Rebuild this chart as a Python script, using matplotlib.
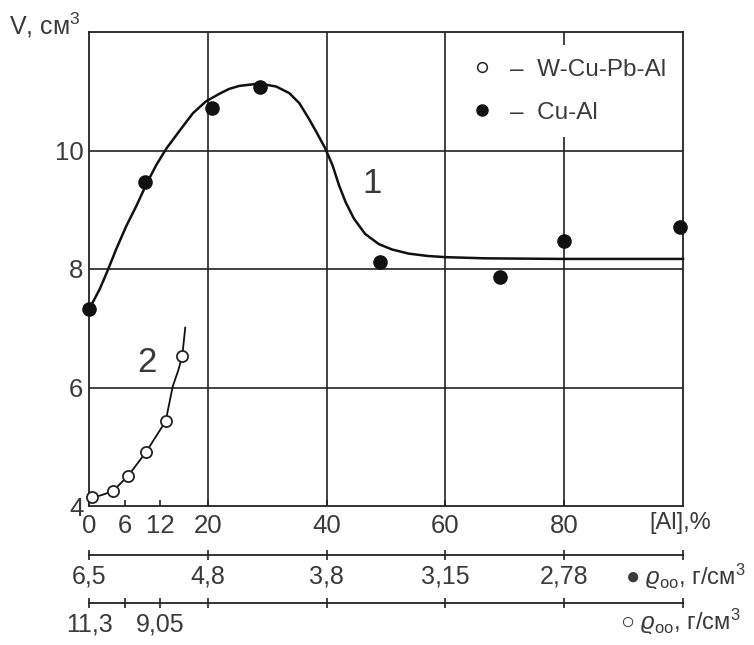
import matplotlib
matplotlib.use("Agg")
import matplotlib.pyplot as plt
from matplotlib.lines import Line2D

plt.rcParams['font.family'] = ['Liberation Sans', 'DejaVu Sans']
plt.rcParams['mathtext.fontset'] = 'custom'
plt.rcParams['mathtext.rm'] = 'Liberation Sans'
plt.rcParams['mathtext.it'] = 'Liberation Sans:italic'
plt.rcParams['mathtext.fallback'] = 'stixsans'

# ---- data ----
# curve 1 (Cu-Al), fitted line
curve1_x = [0.17, 1.8, 3.0, 4.6, 6.3, 8.0, 9.7, 11.3, 13.0, 15.3, 17.5, 19.7, 22.0,
            23.6, 25.3, 28.7, 31.5, 33.7, 35.4, 37.0, 38.4, 39.7, 41.0, 42.1, 43.2,
            44.6, 46.5, 48.8, 51.0, 53.8, 57.0, 60.0, 66.7, 80.0, 100.0]
curve1_y = [7.35, 7.66, 7.94, 8.34, 8.73, 9.07, 9.44, 9.75, 10.03, 10.34, 10.63, 10.83,
            10.96, 11.04, 11.09, 11.13, 11.08, 10.97, 10.80, 10.54, 10.29, 10.05, 9.75,
            9.41, 9.13, 8.85, 8.59, 8.42, 8.33, 8.26, 8.22, 8.20, 8.18, 8.17, 8.17]
# measured Cu-Al points
cual_x = [0, 9.4, 20.7, 28.8, 49, 69.2, 80, 99.5]
cual_y = [7.32, 9.46, 10.71, 11.08, 8.12, 7.87, 8.47, 8.71]
# curve 2 (W-Cu-Pb-Al)
curve2_x = [0.1, 2.0, 4.0, 6.6, 9.6, 12.9, 14.1, 15.0, 15.7, 16.2]
curve2_y = [4.13, 4.18, 4.25, 4.51, 4.91, 5.43, 6.02, 6.28, 6.53, 7.01]
wcu_x = [0.5, 4.0, 6.6, 9.6, 12.9, 15.7]
wcu_y = [4.15, 4.25, 4.51, 4.91, 5.43, 6.53]

main_xticks = [0, 6, 12, 20, 40, 60, 80]
main_xlabels = ['0', '6', '12', '20', '40', '60', '80']
yticks = [4, 6, 8, 10]
rho1_ticks = [0, 20, 40, 60, 80, 100]
rho1_labels = ['6,5', '4,8', '3,8', '3,15', '2,78', '']
rho2_ticks = [0, 6, 12, 20, 40, 60, 80, 100]
rho2_labels = ['11,3', '', '9,05', '', '', '', '', '']

W, H = 754, 645
fig = plt.figure(figsize=(W / 100, H / 100), dpi=100)
L, R, T, B = 89, 683, 32, 506
ax = fig.add_axes([L / W, 1 - B / H, (R - L) / W, (B - T) / H])

dark = '#222222'
txt = '#3a3a3a'
ax.set_xlim(0, 100)
ax.set_ylim(4, 12)
for s in ax.spines.values():
    s.set_linewidth(1.3)
    s.set_color(dark)
for v in [20, 40, 60, 80]:
    ax.axvline(v, color=dark, lw=1.2, zorder=1)
for v in [6, 8, 10]:
    ax.axhline(v, color=dark, lw=1.2, zorder=1)

ax.set_xticks(main_xticks)
ax.set_xticklabels(main_xlabels)
ax.set_yticks(yticks)
ax.tick_params(axis='x', direction='in', length=4, width=1.2, color=dark,
               labelsize=18.5, labelcolor=txt, pad=6)
ax.tick_params(axis='y', length=0, labelsize=18.5, labelcolor=txt, pad=4)

ax.plot(curve1_x, curve1_y, color='#111111', lw=1.8, zorder=3, clip_on=False,
        solid_joinstyle='round')
ax.plot(curve2_x, curve2_y, color='#111111', lw=1.3, zorder=3, clip_on=False,
        solid_joinstyle='round')
ax.plot(cual_x, cual_y, 'o', color='#111111', ms=9.5, zorder=4, clip_on=False)
ax.plot(wcu_x, wcu_y, 'o', mfc='white', mec='#222222', mew=1.3, ms=8, zorder=4,
        clip_on=False)

ax.text(47.6, 9.45, '1', fontsize=25, color=txt, ha='center', va='center')
ax.text(9.7, 6.42, '2', fontsize=25, color=txt, ha='center', va='center')

handles = [Line2D([], [], ls='none', marker='o', mfc='white', mec='#222222', ms=7, mew=1.1),
           Line2D([], [], ls='none', marker='o', color='#111111', ms=8)]
leg = ax.legend(handles, ['–  W-Cu-Pb-Al', '–  Cu-Al'], loc='upper left',
                bbox_to_anchor=((456 - L) / (R - L), (B - 45) / (B - T)),
                frameon=True, fancybox=False, framealpha=1, facecolor='white',
                edgecolor='none', fontsize=17.5, handlelength=1.0, handletextpad=0.65,
                labelspacing=0.85, borderpad=0.57, borderaxespad=0)
for t in leg.get_texts():
    t.set_color(txt)
leg.set_zorder(5)

fig.text(9 / W, 1 - 25 / H, r'V, см$^3$', fontsize=18, color=txt, ha='left',
         va='center')
ax.text(94.4, -(523 - B) / (B - T), '[Al],%', transform=ax.get_xaxis_transform(),
        fontsize=17, color=txt, ha='left', va='center')


def sub_axis(ypix, ticks, labels):
    a = fig.add_axes([L / W, 1 - ypix / H, (R - L) / W, 0.0001])
    a.set_xlim(0, 100)
    a.set_yticks([])
    for k in ['top', 'left', 'right']:
        a.spines[k].set_visible(False)
    a.spines['bottom'].set_linewidth(1.3)
    a.spines['bottom'].set_color(dark)
    a.set_xticks(ticks)
    a.set_xticklabels(labels)
    a.tick_params(axis='x', direction='inout', length=7, width=1.2, color=dark,
                  labelsize=18, labelcolor=txt, pad=3)
    a.patch.set_visible(False)
    return a


sub_axis(555, rho1_ticks, rho1_labels)
sub_axis(603, rho2_ticks, rho2_labels)

fig.text(625 / W, 1 - 577 / H, r'● $\varrho_{\rm oo}$, г/см$^3$', fontsize=17, color=txt,
         ha='left', va='center')
fig.text(620 / W, 1 - 622 / H, r'○ $\varrho_{\rm oo}$, г/см$^3$', fontsize=17, color=txt,
         ha='left', va='center')

fig.savefig('out.png', dpi=100, facecolor='white')
